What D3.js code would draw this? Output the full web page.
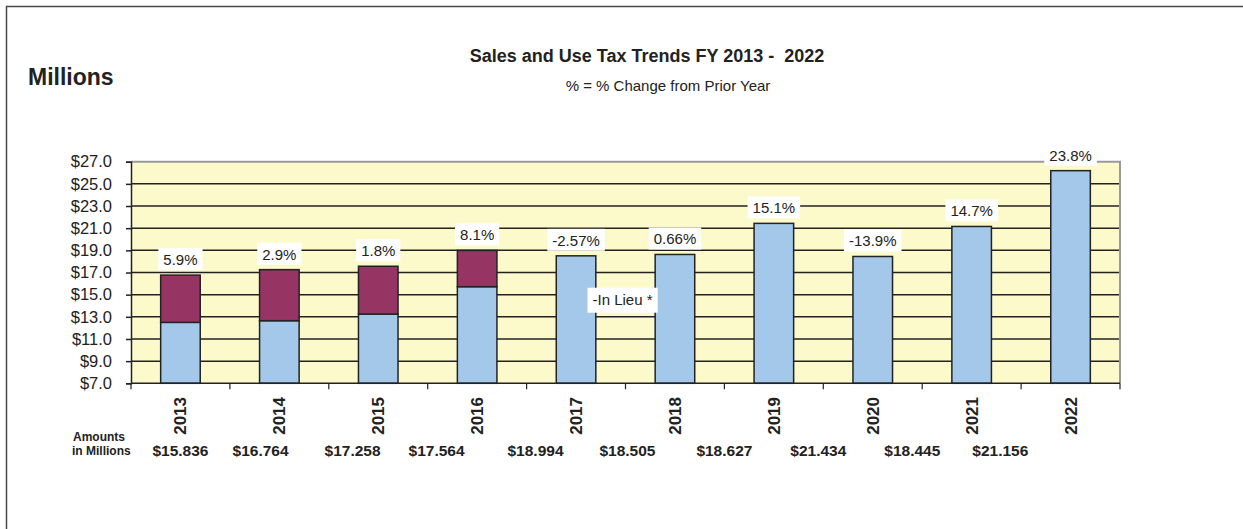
<!DOCTYPE html>
<html>
<head>
<meta charset="utf-8">
<script src="https://cdn.jsdelivr.net/npm/d3@7"></script>
<style>
  body { margin: 0; background: #fff; }
  svg { display: block; font-family: "Liberation Sans", Arial, sans-serif; }
</style>
</head>
<body>
<div id="chart"></div>
<script>
// Données
const years = ["2013", "2014", "2015", "2016", "2017", "2018", "2019", "2020", "2021", "2022"];
const salesTax = [12.50, 12.65, 13.25, 15.72, 18.505, 18.627, 21.434, 18.445, 21.156, 26.19];
const inLieu = [4.264, 4.608, 4.314, 3.274, 0, 0, 0, 0, 0, 0];
const pctChange = ["5.9%", "2.9%", "1.8%", "8.1%", "-2.57%", "0.66%", "15.1%", "-13.9%", "14.7%", "23.8%"];
const amounts = ["$15.836", "$16.764", "$17.258", "$17.564", "$18.994", "$18.505", "$18.627", "$21.434", "$18.445", "$21.156"];
const yTicks = [7, 9, 11, 13, 15, 17, 19, 21, 23, 25, 27];

// position des montants sous l'axe, en nombre de colonnes depuis la gauche
const amountSlot = [0.50, 1.31, 2.24, 3.09, 4.09, 5.02, 6.0, 6.95, 7.9, 8.79];

const width = 1243;
const height = 529;
const plot = { left: 131, right: 1120, top: 161.7, bottom: 383.3 };

const svg = d3.select("#chart")
    .append("svg")
    .attr("width", width)
    .attr("height", height);

// cadre extérieur
svg.append("rect")
    .attr("x", 6.5).attr("y", 6.5)
    .attr("width", width + 20).attr("height", height + 20)
    .attr("fill", "none")
    .attr("stroke", "#4a4a4a")
    .attr("stroke-width", 1.5);

const x = d3.scaleBand()
    .domain(years)
    .range([plot.left, plot.right])
    .paddingInner(0.6)
    .paddingOuter(0.3);

const y = d3.scaleLinear()
    .domain([7, 27])
    .range([plot.bottom, plot.top]);

const step = x.step();

// fond jaune
svg.append("rect")
    .attr("x", plot.left)
    .attr("y", plot.top)
    .attr("width", plot.right - plot.left)
    .attr("height", plot.bottom - plot.top)
    .attr("fill", "#fcf9cb");

// lignes horizontales
svg.append("g")
    .selectAll("line")
    .data(yTicks.filter(d => d > 7 && d < 27))
    .enter()
    .append("line")
    .attr("x1", plot.left).attr("x2", plot.right)
    .attr("y1", d => y(d)).attr("y2", d => y(d))
    .attr("stroke", "#222")
    .attr("stroke-width", 1.5);

// bordure haut / droite grise
svg.append("path")
    .attr("d", `M${plot.left},${plot.top}H${plot.right}V${plot.bottom}`)
    .attr("fill", "none")
    .attr("stroke", "#9a9a9a")
    .attr("stroke-width", 2);

// axe Y
const yAxis = svg.append("g")
    .attr("transform", `translate(${plot.left},0)`)
    .call(d3.axisLeft(y).tickValues(yTicks).tickSize(5).tickPadding(14)
        .tickFormat(d => "$" + d.toFixed(1)));
yAxis.select(".domain").attr("stroke", "#222").attr("stroke-width", 1.5);
yAxis.selectAll(".tick line").attr("stroke", "#222").attr("stroke-width", 1.5);
yAxis.selectAll(".tick text")
    .attr("font-size", "16.5px")
    .attr("fill", "#222")
    .attr("font-family", "Liberation Sans, Arial, sans-serif");

// barres : taxe de vente (bleu) puis "in lieu" (bordeaux) empilé
const stack = years.map((yr, i) => ({ year: yr, base: salesTax[i], lieu: inLieu[i] }));

svg.append("g")
    .selectAll("rect")
    .data(stack)
    .enter()
    .append("rect")
    .attr("x", d => x(d.year))
    .attr("y", d => y(d.base))
    .attr("width", x.bandwidth())
    .attr("height", d => y(7) - y(d.base))
    .attr("fill", "#a4c8e9")
    .attr("stroke", "#222")
    .attr("stroke-width", 1.5);

svg.append("g")
    .selectAll("rect")
    .data(stack.filter(d => d.lieu > 0))
    .enter()
    .append("rect")
    .attr("x", d => x(d.year))
    .attr("y", d => y(d.base + d.lieu))
    .attr("width", x.bandwidth())
    .attr("height", d => y(d.base) - y(d.base + d.lieu))
    .attr("fill", "#963463")
    .attr("stroke", "#222")
    .attr("stroke-width", 1.5);

// axe X (traits seulement)
const xAxisG = svg.append("g")
    .attr("transform", `translate(0,${plot.bottom})`);
xAxisG.append("line")
    .attr("x1", plot.left).attr("x2", plot.right)
    .attr("stroke", "#222").attr("stroke-width", 1.5);
xAxisG.selectAll(".tk")
    .data(d3.range(years.length + 1))
    .enter()
    .append("line")
    .attr("class", "tk")
    .attr("x1", i => plot.left + i * step)
    .attr("x2", i => plot.left + i * step)
    .attr("y1", 0).attr("y2", 6)
    .attr("stroke", "#222").attr("stroke-width", 1.2);

// années verticales
svg.append("g")
    .selectAll("text")
    .data(years)
    .enter()
    .append("text")
    .attr("transform", d => `translate(${x(d) + x.bandwidth() / 2 + 6},397) rotate(-90)`)
    .attr("text-anchor", "end")
    .attr("font-size", "17px")
    .attr("font-weight", "bold")
    .attr("fill", "#222")
    .text(d => d);

// étiquettes de pourcentage
const pctG = svg.append("g")
    .selectAll("g")
    .data(stack)
    .enter()
    .append("g")
    .attr("transform", (d, i) => `translate(${x(d.year) + x.bandwidth() / 2},${y(d.base + d.lieu) - 5})`);

pctG.append("text")
    .attr("text-anchor", "middle")
    .attr("y", -5)
    .attr("font-size", "15px")
    .attr("fill", "#222")
    .text((d, i) => pctChange[i])
    .each(function() {
        const b = this.getBBox();
        d3.select(this.parentNode).insert("rect", "text")
            .attr("x", b.x - 5)
            .attr("y", -22)
            .attr("width", b.width + 10)
            .attr("height", 22)
            .attr("fill", "#fff");
    });

// annotation "In Lieu"
const lieuX = plot.left + 5 * step - 3;
const lieuY = y(14.5);
const lieuG = svg.append("g").attr("transform", `translate(${lieuX},${lieuY})`);
const lieuText = lieuG.append("text")
    .attr("text-anchor", "middle")
    .attr("y", 5)
    .attr("font-size", "15px")
    .attr("fill", "#222")
    .text("-In Lieu *");
const lb = lieuText.node().getBBox();
lieuG.insert("rect", "text")
    .attr("x", lb.x - 5).attr("y", -12.5)
    .attr("width", lb.width + 10).attr("height", 25)
    .attr("fill", "#fff");

// montants sous l'axe
svg.append("g")
    .selectAll("text")
    .data(amounts)
    .enter()
    .append("text")
    .attr("x", (d, i) => plot.left + amountSlot[i] * step)
    .attr("y", 456)
    .attr("text-anchor", "middle")
    .attr("font-size", "15.5px")
    .attr("font-weight", "bold")
    .attr("fill", "#222")
    .text(d => d);

svg.append("text")
    .attr("x", 73).attr("y", 441)
    .attr("font-size", "12px").attr("font-weight", "bold").attr("fill", "#222")
    .text("Amounts");
svg.append("text")
    .attr("x", 72).attr("y", 455)
    .attr("font-size", "12px").attr("font-weight", "bold").attr("fill", "#222")
    .text("in Millions");

// titres
svg.append("text")
    .attr("x", 647).attr("y", 62)
    .attr("text-anchor", "middle")
    .attr("font-size", "18px")
    .attr("font-weight", "bold")
    .attr("fill", "#222")
    .style("white-space", "pre")
    .text("Sales and Use Tax Trends FY 2013 -  2022");

svg.append("text")
    .attr("x", 668).attr("y", 91)
    .attr("text-anchor", "middle")
    .attr("font-size", "15px")
    .attr("fill", "#222")
    .text("% = % Change from Prior Year");

svg.append("text")
    .attr("x", 28).attr("y", 85)
    .attr("font-size", "23px")
    .attr("font-weight", "bold")
    .attr("fill", "#222")
    .text("Millions");
</script>
</body>
</html>
